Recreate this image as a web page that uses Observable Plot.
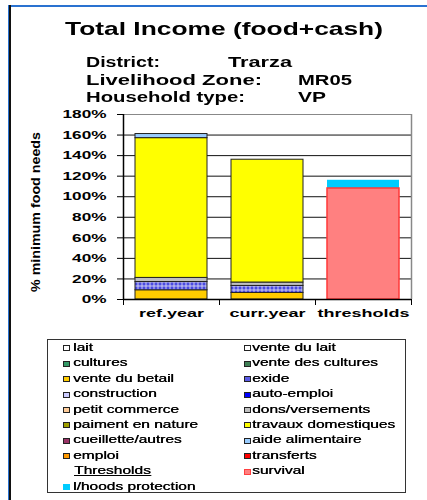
<!DOCTYPE html>
<html><head><meta charset="utf-8">
<script src="https://cdn.jsdelivr.net/npm/d3@7"></script>
<script src="https://cdn.jsdelivr.net/npm/@observablehq/plot@0.6"></script>
<style>
body{margin:0;background:#fff;}
#page{position:relative;width:427px;height:500px;overflow:hidden;font-family:"Liberation Sans",Arial,sans-serif;color:#000;}
.t{position:absolute;white-space:nowrap;line-height:1;}
.s{display:inline-block;transform-origin:0 0;}
.lg{text-shadow:0.35px 0 0 #000;}
.mk{position:absolute;width:5px;height:4px;border:1px solid #222;}
</style></head><body><div id="page"></div>
<script>
// ---- data ----
const categories = ["ref.year", "curr.year", "thresholds"];
const incomeSources = ["vente du betail", "exide", "dons/versements", "travaux domestiques", "aide alimentaire"];
const refYearValues = [9, 8, 4, 136, 4];
const currYearValues = [6.4, 6.8, 3.3, 119.5, 0];
const thresholdNames = ["survival", "l/hoods protection"];
const thresholdValues = [108, 8];
const yTicks = [0, 20, 40, 60, 80, 100, 120, 140, 160, 180];
const legendLeft = ["lait", "cultures", "vente du betail", "construction", "petit commerce", "paiment en nature", "cueillette/autres", "emploi", "Thresholds", "l/hoods protection"];
const legendRight = ["vente du lait", "vente des cultures", "exide", "auto-emploi", "dons/versements", "travaux domestiques", "aide alimentaire", "transferts", "survival"];
const titleText = "Total Income (food+cash)";
const infoLabels = ["District:", "Livelihood Zone:", "Household type:"];
const infoValues = ["Trarza", "MR05", "VP"];
const yAxisLabel = "% minimum food needs";

// ---- styles ----
const colors = {
  "lait": "#FFFFFF", "vente du lait": "#FFFFFF", "cultures": "#339966", "vente des cultures": "#3f7f55",
  "vente du betail": "#FFCC00", "exide": "url(#exide)", "construction": "#CCCCFF", "auto-emploi": "#0000FF",
  "petit commerce": "#FFCC99", "dons/versements": "#C0C0C0", "paiment en nature": "#A0A000",
  "travaux domestiques": "#FFFF00", "cueillette/autres": "#993366", "aide alimentaire": "#99CCFF",
  "emploi": "#FF9900", "transferts": "#FF0000", "survival": "#FF8080", "l/hoods protection": "#00CCFF"
};
const legendSwatch = Object.assign({}, colors, {"exide": "#5a5ae6"});

const page = document.getElementById("page");

// frame lines
const fr1 = document.createElement("div");
fr1.style.cssText = "position:absolute;left:8px;top:5px;width:419px;height:2px;background:#2a72d0;";
const fr2 = document.createElement("div");
fr2.style.cssText = "position:absolute;left:8px;top:5px;width:1px;height:495px;background:#2a72d0;border-right:2px solid #111;";
page.appendChild(fr1); page.appendChild(fr2);

function addText(txt, o) {
  const d = document.createElement("div");
  d.className = "t" + (o.cls ? " " + o.cls : "");
  d.style.left = o.left + "px"; d.style.top = o.top + "px";
  d.style.fontSize = o.size + "px"; d.style.fontWeight = o.weight || "bold";
  const s = document.createElement("span");
  s.className = "s"; s.textContent = txt;
  if (o.underline) s.style.textDecoration = "underline";
  d.appendChild(s); page.appendChild(d);
  if (o.width) { const w = s.getBoundingClientRect().width; s.style.transform = `scaleX(${o.width / w})`; }
  if (o.scale) s.style.transform = `scaleX(${o.scale})`;
  return s;
}

// title + info
addText(titleText, {left: 65, top: 20.3, size: 18.5, width: 318});
const infoTops = [55, 72.6, 90.2];
const labelW = [74, 176, 159];
const valueX = [228, 298, 298];
const valueW = [64, 54, 28];
infoLabels.forEach((t, i) => addText(t, {left: 86, top: infoTops[i], size: 14, width: labelW[i]}));
infoValues.forEach((t, i) => addText(t, {left: valueX[i], top: infoTops[i], size: 14, width: valueW[i]}));

// y label (rotated)
const yl = document.createElement("div");
yl.className = "t";
yl.style.cssText += "left:36px;top:212px;font-size:12px;font-weight:bold;";
const ylSpan = document.createElement("span");
ylSpan.style.display = "inline-block";
ylSpan.textContent = yAxisLabel;
yl.appendChild(ylSpan);
page.appendChild(yl);
const ylw = ylSpan.getBoundingClientRect().width;
yl.style.transform = `translate(-50%,-50%) rotate(-90deg) scaleX(${160 / ylw})`;

// ---- chart ----
const incomeData = [];
[refYearValues, currYearValues].forEach((vals, i) => {
  incomeSources.forEach((s, j) => { if (vals[j] > 0) incomeData.push({category: categories[i], source: s, value: vals[j]}); });
});
const thresholdData = thresholdNames.map((n, j) => ({category: categories[2], source: n, value: thresholdValues[j]}));
const allSources = Object.keys(colors);
const half = (427 - 123 - 16) / 3 / 2;

const chart = Plot.plot({
  width: 427, height: 230,
  marginTop: 14, marginBottom: 31, marginLeft: 123, marginRight: 16,
  style: {fontFamily: "Liberation Sans, Arial, sans-serif", fontSize: "11.5px", fontWeight: "bold", color: "#000", background: "transparent", overflow: "visible"},
  x: {domain: categories, padding: 0, axis: null},
  y: {domain: [0, 180], axis: null},
  color: {domain: allSources, range: allSources.map(s => colors[s])},
  marks: [
    Plot.ruleY(yTicks.filter(d => d > 0 && d < 180), {stroke: "#111", strokeWidth: 1}),
    Plot.ruleY([180], {stroke: "#888", strokeWidth: 1.2}),
    Plot.ruleX(categories.slice(2), {dx: half, stroke: "#888", strokeWidth: 1.5}),
    Plot.barY(incomeData, {x: "category", y: "value", fill: "source", stroke: "#222", strokeWidth: 1, insetLeft: 12, insetRight: 12}),
    Plot.barY(thresholdData, {x: "category", y: "value", fill: "source", insetLeft: 12, insetRight: 12}),
    Plot.barY(thresholdData.slice(0, 1), {x: "category", y: "value", fill: "none", stroke: "#ff3838", strokeWidth: 1.5, insetLeft: 12, insetRight: 12}),
    Plot.ruleY([0], {stroke: "#000", strokeWidth: 1.5}),
    Plot.ruleX(categories.slice(0, 1), {dx: -half, stroke: "#000", strokeWidth: 1.5}),
    Plot.axisY(yTicks, {anchor: "left", label: null, tickSize: 6, tickPadding: 11, tickFormat: d => d + "%", stroke: "#000"}),
    Plot.axisX(categories, {label: null, tickSize: 6, dx: -half, tickFormat: () => "", stroke: "#000"}),
    Plot.axisX(categories.slice(2), {label: null, tickSize: 6, dx: half, tickFormat: () => "", stroke: "#000"}),
    Plot.axisX(categories, {label: null, tickSize: 0, tickPadding: 9})
  ]
});
chart.style.position = "absolute";
chart.style.left = "0px";
chart.style.top = "100px";
page.appendChild(chart);

const ns = "http://www.w3.org/2000/svg";
const defs = document.createElementNS(ns, "defs");
defs.innerHTML = '<pattern id="exide" width="4" height="4" patternUnits="userSpaceOnUse"><rect width="4" height="4" fill="#4a4ae2"/><path d="M0 2H4M2 0V4" stroke="#d8d8f0" stroke-width="0.9"/></pattern>';
chart.insertBefore(defs, chart.firstChild);

function stretchSvgText(t, s) {
  const w = t.getComputedTextLength();
  t.setAttribute("textLength", w * s);
  t.setAttribute("lengthAdjust", "spacingAndGlyphs");
}
const yTexts = [...chart.querySelectorAll('[aria-label="y-axis tick label"] text')];
const y180 = yTexts.find(t => t.textContent === "180%");
const ys = y180 ? 44 / y180.getComputedTextLength() : 1.45;
yTexts.forEach(t => stretchSvgText(t, ys));
const xTexts = [...chart.querySelectorAll('[aria-label="x-axis tick label"] text')].filter(t => t.textContent !== "");
const xt = xTexts.find(t => t.textContent === "thresholds");
const xs = xt ? 92 / xt.getComputedTextLength() : 1.5;
xTexts.forEach(t => stretchSvgText(t, xs));

// ---- legend ----
const box = document.createElement("div");
box.style.cssText = "position:absolute;left:47px;top:339px;width:357px;height:152px;border:1.5px solid #333;";
page.appendChild(box);
const rowH = 15.45;
const probe = addText("travaux domestiques", {left: -500, top: 0, size: 11, weight: "normal"});
const ls = 143 / probe.getBoundingClientRect().width;
probe.parentNode.remove();
function legendItem(name, i, textX, markX) {
  const top = 341.7 + rowH * i;
  if (name === "Thresholds") {
    addText(name, {left: textX + 1, top, size: 11, weight: "normal", scale: ls, underline: true, cls: "lg"});
    return;
  }
  const m = document.createElement("div");
  m.className = "mk";
  m.style.left = markX + "px"; m.style.top = (top + 3.5) + "px";
  m.style.background = legendSwatch[name];
  if (name === "l/hoods protection" ) m.style.borderColor = "#00CCFF";
  if (name === "survival") m.style.borderColor = "#ff4040";
  page.appendChild(m);
  addText(name, {left: textX, top, size: 11, weight: "normal", scale: ls, cls: "lg"});
}
legendLeft.forEach((n, i) => legendItem(n, i, 73, 63));
legendRight.forEach((n, i) => legendItem(n, i, 252, 244));
</script></body></html>
